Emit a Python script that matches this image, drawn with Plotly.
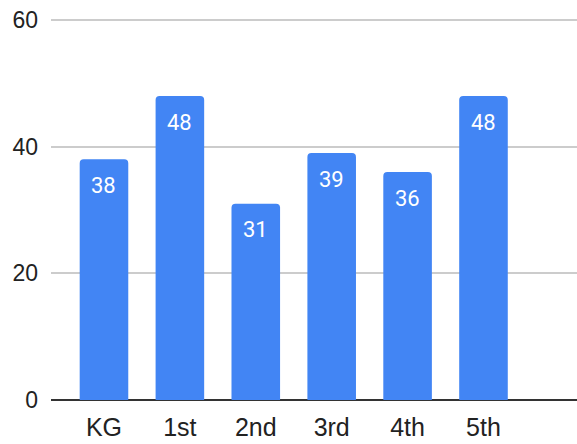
import plotly.graph_objects as go

categories = ["KG", "1st", "2nd", "3rd", "4th", "5th"]
values = [38, 48, 31, 39, 36, 48]
y_ticks = [0, 20, 40, 60]

fig = go.Figure()
fig.add_trace(go.Bar(
    x=categories, y=values,
    marker=dict(color="#4285F4", line=dict(width=0), cornerradius=4),
    hoverinfo="skip",
))

for c, v in zip(categories, values):
    fig.add_annotation(
        x=c, y=v, text=str(v), showarrow=False,
        yanchor="middle", yshift=-26,
        font=dict(family="Roboto", size=22, color="#ffffff"),
    )

fig.update_layout(
    width=577, height=444,
    margin=dict(l=51, r=0, t=14, b=44, autoexpand=False),
    paper_bgcolor="white", plot_bgcolor="white",
    bargap=0.36,
    showlegend=False,
    xaxis=dict(
        range=[-0.698, 6.232],
        showgrid=False, zeroline=False, showline=False,
        ticks="",
        tickfont=dict(family="Liberation Sans, Arial", size=25, color="#222222"),
        ticklabelstandoff=10,
        automargin=False,
    ),
    yaxis=dict(
        range=[0, 60.95],
        tickvals=y_ticks,
        showgrid=True, gridcolor="#cccccc", gridwidth=1.5,
        zeroline=True, zerolinecolor="#333333", zerolinewidth=2,
        showline=False, ticks="",
        tickfont=dict(family="Liberation Sans, Arial", size=23, color="#222222"),
        ticklabelstandoff=12,
        automargin=False,
    ),
)

fig.write_html("out.html")
